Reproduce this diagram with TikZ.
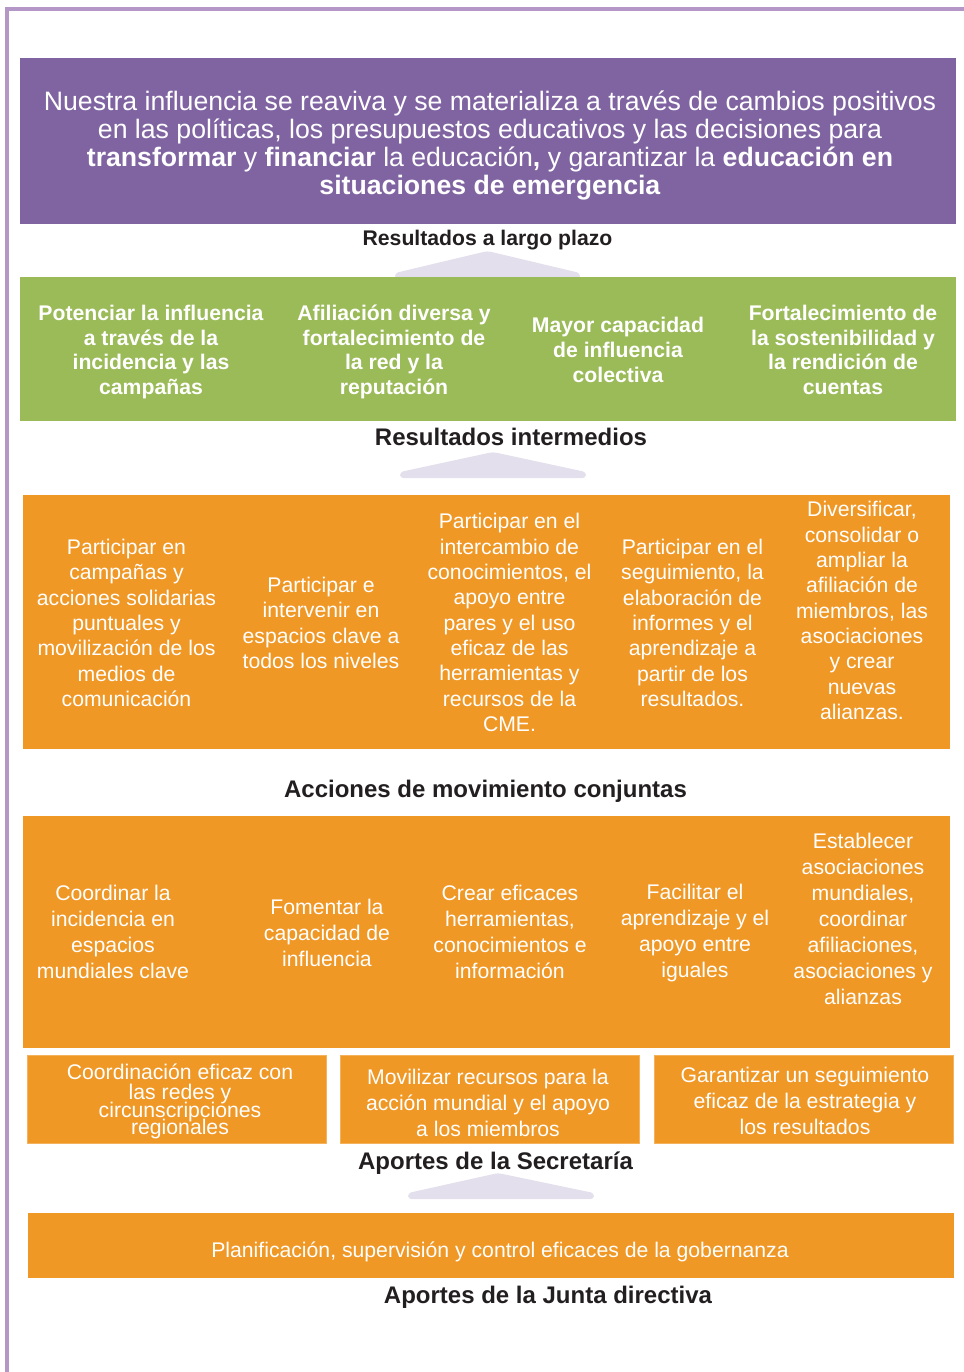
\documentclass[tikz,border=0pt]{standalone}
\usepackage{fontspec}
\setmainfont{Liberation Sans}
\usepackage{tikz}

\definecolor{vision}{HTML}{8064A2}
\definecolor{result}{HTML}{9BBB59}
\definecolor{action}{HTML}{F09826}
\definecolor{lavender}{HTML}{E4DFEC}
\definecolor{frame}{HTML}{B497C7}
\definecolor{label}{HTML}{231F20}

\tikzset{
  vistext/.style = {text=white, align=center, inner sep=0pt,
    font=\fontsize{20}{21}\selectfont},
  restext/.style = {text=white, align=center, inner sep=0pt,
    font=\bfseries\fontsize{15.9}{18.5}\selectfont},
  acttext/.style = {text=white, align=center, inner sep=0pt,
    font=\fontsize{15.9}{19}\selectfont},
  inptext/.style = {text=white, align=center, inner sep=0pt,
    font=\fontsize{15.9}{19.5}\selectfont},
  level/.style = {text=label, inner sep=0pt,
    font=\bfseries\fontsize{18}{20}\selectfont},
  uparrow/.style = {fill=lavender, rounded corners=2.5pt},
  smallbox/.style = {fill=action, draw=action!75!white, line width=0.6pt}
}

\begin{document}
\begin{tikzpicture}[x=0.75pt, y=-0.75pt]
\useasboundingbox (0,0) rectangle (964,1372);

% frame
\draw[frame, line width=3pt] (5.5,8.5) -- (964,8.5);
\draw[frame, line width=3pt] (7,7) -- (7,1372);

% vision
\fill[vision] (20,58) rectangle (956,224);
\node[vistext] (vision) at (490,145.5) {Nuestra influencia se reaviva y se materializa a través de cambios positivos\\
en las políticas, los presupuestos educativos y las decisiones para\\
\textbf{transformar} y \textbf{financiar} la educación\textbf{,} y garantizar la \textbf{educación en}\\
\textbf{situaciones de emergencia}};
\node[level, font=\bfseries\fontsize{15.9}{18}\selectfont] (largo) at (487.5,240) {Resultados a largo plazo};

% long-term results
\fill[uparrow] (395,279) -- (395,273) -- (487.5,251) -- (580,273) -- (580,279) -- cycle;
\fill[result] (20,277) rectangle (956,421);
\node[restext] (r1) at (151,352) {Potenciar la influencia\\a través de la\\incidencia y las\\campañas};
\node[restext] (r2) at (394,352) {Afiliación diversa y\\fortalecimiento de\\la red y la\\reputación};
\node[restext] (r3) at (618,350) {Mayor capacidad\\de influencia\\colectiva};
\node[restext] (r4) at (843,350) {Fortalecimiento de\\la sostenibilidad y\\la rendición de\\cuentas};
\node[level] (interm) at (511,436.5) {Resultados intermedios};

% joint actions
\fill[uparrow] (400,478) -- (400,472) -- (493,452) -- (586,472) -- (586,478) -- cycle;
\fill[action] (23,495) rectangle (950,749);
\node[acttext] (a1) at (126.5,623) {Participar en\\campañas y\\acciones solidarias\\puntuales y\\movilización de los\\medios de\\comunicación};
\node[acttext] (a2) at (321,623) {Participar e\\intervenir en\\espacios clave a\\todos los niveles};
\node[acttext] (a3) at (509.5,622.5) {Participar en el\\intercambio de\\conocimientos, el\\apoyo entre\\pares y el uso\\eficaz de las\\herramientas y\\recursos de la\\CME.};
\node[acttext] (a4) at (692.5,623) {Participar en el\\seguimiento, la\\elaboración de\\informes y el\\aprendizaje a\\partir de los\\resultados.};
\node[acttext] (a5) at (862,610.5) {Diversificar,\\consolidar o\\ampliar la\\afiliación de\\miembros, las\\asociaciones\\y crear\\nuevas\\alianzas.};
\node[level] (joint) at (485.5,791) {Acciones de movimiento conjuntas};

% secretariat inputs
\fill[action] (23,816) rectangle (950,1048);
\node[inptext] (s1) at (113,932) {Coordinar la\\incidencia en\\espacios\\mundiales clave};
\node[inptext] (s2) at (327,932.5) {Fomentar la\\capacidad de\\influencia};
\node[inptext] (s3) at (510,932) {Crear eficaces\\herramientas,\\conocimientos e\\información};
\node[inptext] (s4) at (695,933) {Facilitar el\\aprendizaje y el\\apoyo entre\\iguales};
\node[inptext] (s5) at (863,919) {Establecer\\asociaciones\\mundiales,\\coordinar\\afiliaciones,\\asociaciones y\\alianzas};

\filldraw[smallbox] (27,1055) rectangle (326,1143);
\filldraw[smallbox] (340,1055) rectangle (639,1143);
\filldraw[smallbox] (654,1055) rectangle (953,1143);
\node[inptext, font=\fontsize{15.9}{15}\selectfont] (s6) at (180,1101.5) {Coordinación eficaz con\\las redes y\\[-1.5pt]circunscripciones\\[-2.3pt]regionales};
\node[inptext] (s7) at (488,1103) {Movilizar recursos para la\\acción mundial y el apoyo\\a los miembros};
\node[inptext] (s8) at (805,1101) {Garantizar un seguimiento\\eficaz de la estrategia y\\los resultados};
\node[level] (secr) at (495.5,1163) {Aportes de la Secretaría};

% board inputs
\fill[uparrow] (408,1199) -- (408,1193) -- (498,1173) -- (594,1193) -- (594,1199) -- cycle;
\fill[action] (28,1213) rectangle (954,1278);
\node[inptext] (b1) at (500,1252) {Planificación, supervisión y control eficaces de la gobernanza};
\node[level] (board) at (548,1297) {Aportes de la Junta directiva};
\end{tikzpicture}
\end{document}
